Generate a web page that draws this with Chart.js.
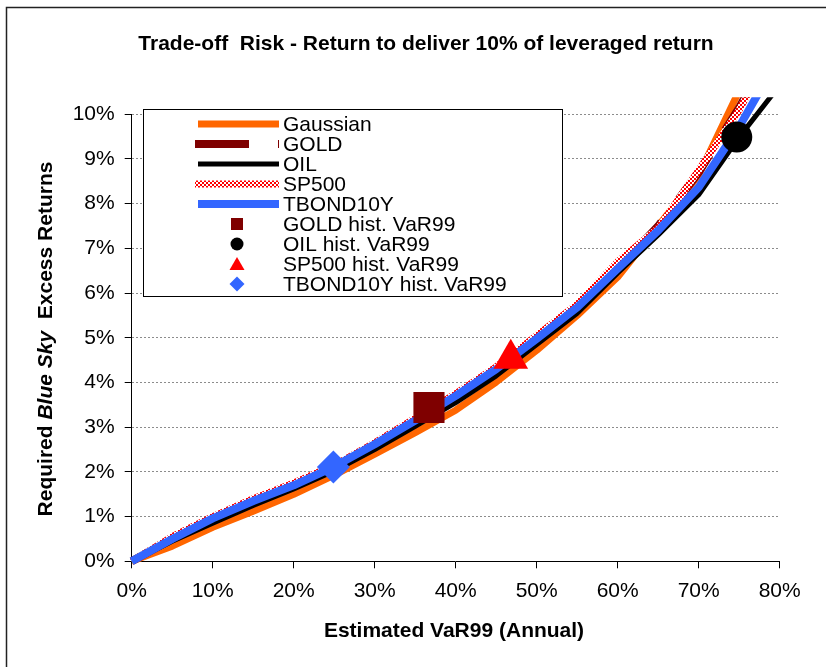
<!DOCTYPE html>
<html>
<head>
<meta charset="utf-8">
<script src="https://cdn.jsdelivr.net/npm/chart.js@4.4.1/dist/chart.umd.min.js"></script>
<style>
  body { margin: 0; background: #fff; }
  #wrap { width: 826px; height: 667px; }
</style>
</head>
<body>
<div id="wrap"><canvas id="chart" width="826" height="667"></canvas></div>
<script>
// Estimated VaR99 (x, %) and required excess return (y, %) per model
const varLevels = [0, 5, 10, 15, 20, 25, 30, 35, 40, 45, 50, 55, 60, 65, 70, 75, 80];
const gaussian  = [0, 0.34, 0.76, 1.12, 1.5, 1.93, 2.4, 2.88, 3.38, 4.01, 4.72, 5.5, 6.36, 7.5, 8.64, 10.53, 12.5];
const gold      = [0, 0.5, 0.95, 1.35, 1.72, 2.12, 2.6, 3.12, 3.65, 4.25, 4.95, 5.65, 6.55, 7.5, 8.7, 10.15, 11.8];
const oil       = [0, 0.45, 0.85, 1.25, 1.62, 2.02, 2.5, 3.02, 3.55, 4.15, 4.85, 5.55, 6.45, 7.3, 8.2, 9.49, 10.65];
const sp500     = [0, 0.55, 1.0, 1.4, 1.75, 2.15, 2.65, 3.2, 3.75, 4.35, 5.05, 5.75, 6.7, 7.45, 8.75, 10.1, 11.8];
const tbond10y  = [0, 0.5, 0.96, 1.35, 1.7, 2.12, 2.62, 3.15, 3.7, 4.3, 4.98, 5.68, 6.55, 7.4, 8.37, 9.72, 11.3];

// historical VaR99 points: [VaR, excess return]
const goldHist  = [36.7, 3.44];
const oilHist   = [74.7, 9.49];
const sp500Hist = [46.8, 4.53];
const tbondHist = [24.9, 2.11];

const xTicks = [0, 10, 20, 30, 40, 50, 60, 70, 80];
const yTicks = [0, 1, 2, 3, 4, 5, 6, 7, 8, 9, 10];

const legendLabels = ['Gaussian', 'GOLD', 'OIL', 'SP500', 'TBOND10Y',
  'GOLD hist. VaR99', 'OIL hist. VaR99', 'SP500 hist. VaR99', 'TBOND10Y hist. VaR99'];

const ORANGE = '#ff6600', MAROON = '#7f0000', BLUE = '#3366ff', RED = '#ff0000';
const FONT = '"Liberation Sans", Arial, sans-serif';

function checker() {
    const c = document.createElement('canvas');
    c.width = 4; c.height = 4;
    const g = c.getContext('2d');
    g.fillStyle = '#fff'; g.fillRect(0, 0, 4, 4);
    g.fillStyle = RED;
    g.fillRect(0, 0, 2, 2); g.fillRect(2, 2, 2, 2);
    return g.createPattern(c, 'repeat');
}
const spPattern = checker();

const toXY = ys => varLevels.map((x, i) => ({ x: x, y: ys[i] }));
const lineClip = { left: 10, top: 17, right: 10, bottom: 10 };

function lineSet(label, ys, color, width, order, dash) {
    return {
        label: label, data: toXY(ys), borderColor: color, borderWidth: width,
        borderDash: dash || [], pointRadius: 0, tension: 0, fill: false,
        borderJoinStyle: 'round', clip: lineClip, order: order
    };
}
function pointSet(label, pt, color, style, radius) {
    return {
        label: label, data: [{ x: pt[0], y: pt[1] }], showLine: false,
        pointStyle: style, pointRadius: radius, pointBackgroundColor: color,
        pointBorderColor: color, pointBorderWidth: 0, clip: false, order: 0
    };
}

// frame, titles and the inside legend
const decor = {
    id: 'decor',
    afterDraw(chart) {
        const ctx = chart.ctx;
        ctx.save();
        ctx.strokeStyle = '#222';
        ctx.lineWidth = 1.5;
        ctx.strokeRect(6.5, 7.5, 900, 900);

        ctx.fillStyle = '#000';
        ctx.textAlign = 'center';
        ctx.textBaseline = 'middle';
        ctx.font = 'bold 21px ' + FONT;
        ctx.fillText('Trade-off  Risk - Return to deliver 10% of leveraged return', 426, 44);
        ctx.fillText('Estimated VaR99 (Annual)', 454, 631);

        // y title with italic part
        const parts = [['Required ', 'bold'], ['Blue Sky', 'italic bold'], ['  Excess Returns', 'bold']];
        let total = 0;
        parts.forEach(p => { ctx.font = p[1] + ' 21px ' + FONT; total += ctx.measureText(p[0]).width; });
        ctx.translate(46, 339);
        ctx.rotate(-Math.PI / 2);
        ctx.textAlign = 'left';
        let px = -total / 2;
        parts.forEach(p => {
            ctx.font = p[1] + ' 21px ' + FONT;
            ctx.fillText(p[0], px, 0);
            px += ctx.measureText(p[0]).width;
        });
        ctx.restore();

        // legend box
        ctx.save();
        const bx = 143.5, by = 109.5, bw = 419, bh = 187;
        ctx.fillStyle = '#fff';
        ctx.fillRect(bx, by, bw, bh);
        ctx.strokeStyle = '#000';
        ctx.lineWidth = 1;
        ctx.strokeRect(bx, by, bw, bh);
        ctx.font = '21px ' + FONT;
        ctx.textAlign = 'left';
        ctx.textBaseline = 'middle';
        const rowY = i => 124 + i * 20;
        const lineStyles = [
            [ORANGE, 7, []], [MAROON, 8, [54, 29]], ['#000', 5, []], [spPattern, 7, []], [BLUE, 8, []]
        ];
        lineStyles.forEach((s, i) => {
            ctx.beginPath();
            ctx.strokeStyle = s[0];
            ctx.lineWidth = s[1];
            ctx.setLineDash(s[2]);
            const x0 = i === 1 || i === 3 ? 195 : 198;
            ctx.moveTo(x0, rowY(i));
            ctx.lineTo(279, rowY(i));
            ctx.stroke();
        });
        ctx.setLineDash([]);
        const mx = 237;
        ctx.fillStyle = MAROON;
        ctx.fillRect(mx - 6, rowY(5) - 6, 12, 12);
        ctx.fillStyle = '#000';
        ctx.beginPath(); ctx.arc(mx, rowY(6), 6.5, 0, Math.PI * 2); ctx.fill();
        ctx.fillStyle = RED;
        ctx.beginPath();
        ctx.moveTo(mx, rowY(7) - 7); ctx.lineTo(mx + 7.5, rowY(7) + 6); ctx.lineTo(mx - 7.5, rowY(7) + 6);
        ctx.closePath(); ctx.fill();
        ctx.fillStyle = BLUE;
        ctx.beginPath();
        ctx.moveTo(mx, rowY(8) - 7.5); ctx.lineTo(mx + 7.5, rowY(8)); ctx.lineTo(mx, rowY(8) + 7.5); ctx.lineTo(mx - 7.5, rowY(8));
        ctx.closePath(); ctx.fill();
        ctx.fillStyle = '#000';
        legendLabels.forEach((t, i) => ctx.fillText(t, 283, rowY(i) + 1));
        ctx.restore();
    }
};

new Chart(document.getElementById('chart'), {
    type: 'line',
    data: {
        datasets: [
            pointSet('GOLD hist. VaR99', goldHist, MAROON, 'rect', 22),
            pointSet('OIL hist. VaR99', oilHist, '#000', 'circle', 15.5),
            pointSet('SP500 hist. VaR99', sp500Hist, RED, 'triangle', 20),
            pointSet('TBOND10Y hist. VaR99', tbondHist, BLUE, 'rectRot', 16.5),
            lineSet('TBOND10Y', tbond10y, BLUE, 8, 1),
            lineSet('SP500', sp500, spPattern, 7, 2),
            lineSet('OIL', oil, '#000', 5, 3),
            lineSet('GOLD', gold, MAROON, 8, 4, [54, 29]),
            lineSet('Gaussian', gaussian, ORANGE, 7, 5)
        ]
    },
    options: {
        responsive: false,
        devicePixelRatio: 1,
        animation: false,
        layout: { padding: { left: 31.7, right: 46.3, top: 114.3, bottom: 65.7 } },
        plugins: { legend: { display: false }, title: { display: false }, tooltip: { enabled: false } },
        scales: {
            x: {
                type: 'linear', min: 0, max: 80,
                afterFit: s => { s.height = 40; },
                afterBuildTicks: s => { s.ticks = xTicks.map(v => ({ value: v })); },
                ticks: { callback: v => v + '%', color: '#000', font: { size: 21, family: FONT }, padding: 10, maxRotation: 0 },
                grid: { drawOnChartArea: false, drawTicks: true, tickLength: 7, tickColor: '#000' },
                border: { display: true, color: '#000', width: 1 }
            },
            y: {
                type: 'linear', min: 0, max: 10,
                afterFit: s => { s.width = 100; },
                afterBuildTicks: s => { s.ticks = yTicks.map(v => ({ value: v })); },
                ticks: { callback: v => v + '%', color: '#000', font: { size: 21, family: FONT }, padding: 10 },
                grid: { color: '#8c8c8c', lineWidth: 1, borderDash: [2, 2], tickBorderDash: [], tickLength: 7, tickColor: '#000' },
                border: { display: true, color: '#000', width: 1, dash: [2, 2] }
            }
        }
    },
    plugins: [decor]
});
</script>
</body>
</html>
